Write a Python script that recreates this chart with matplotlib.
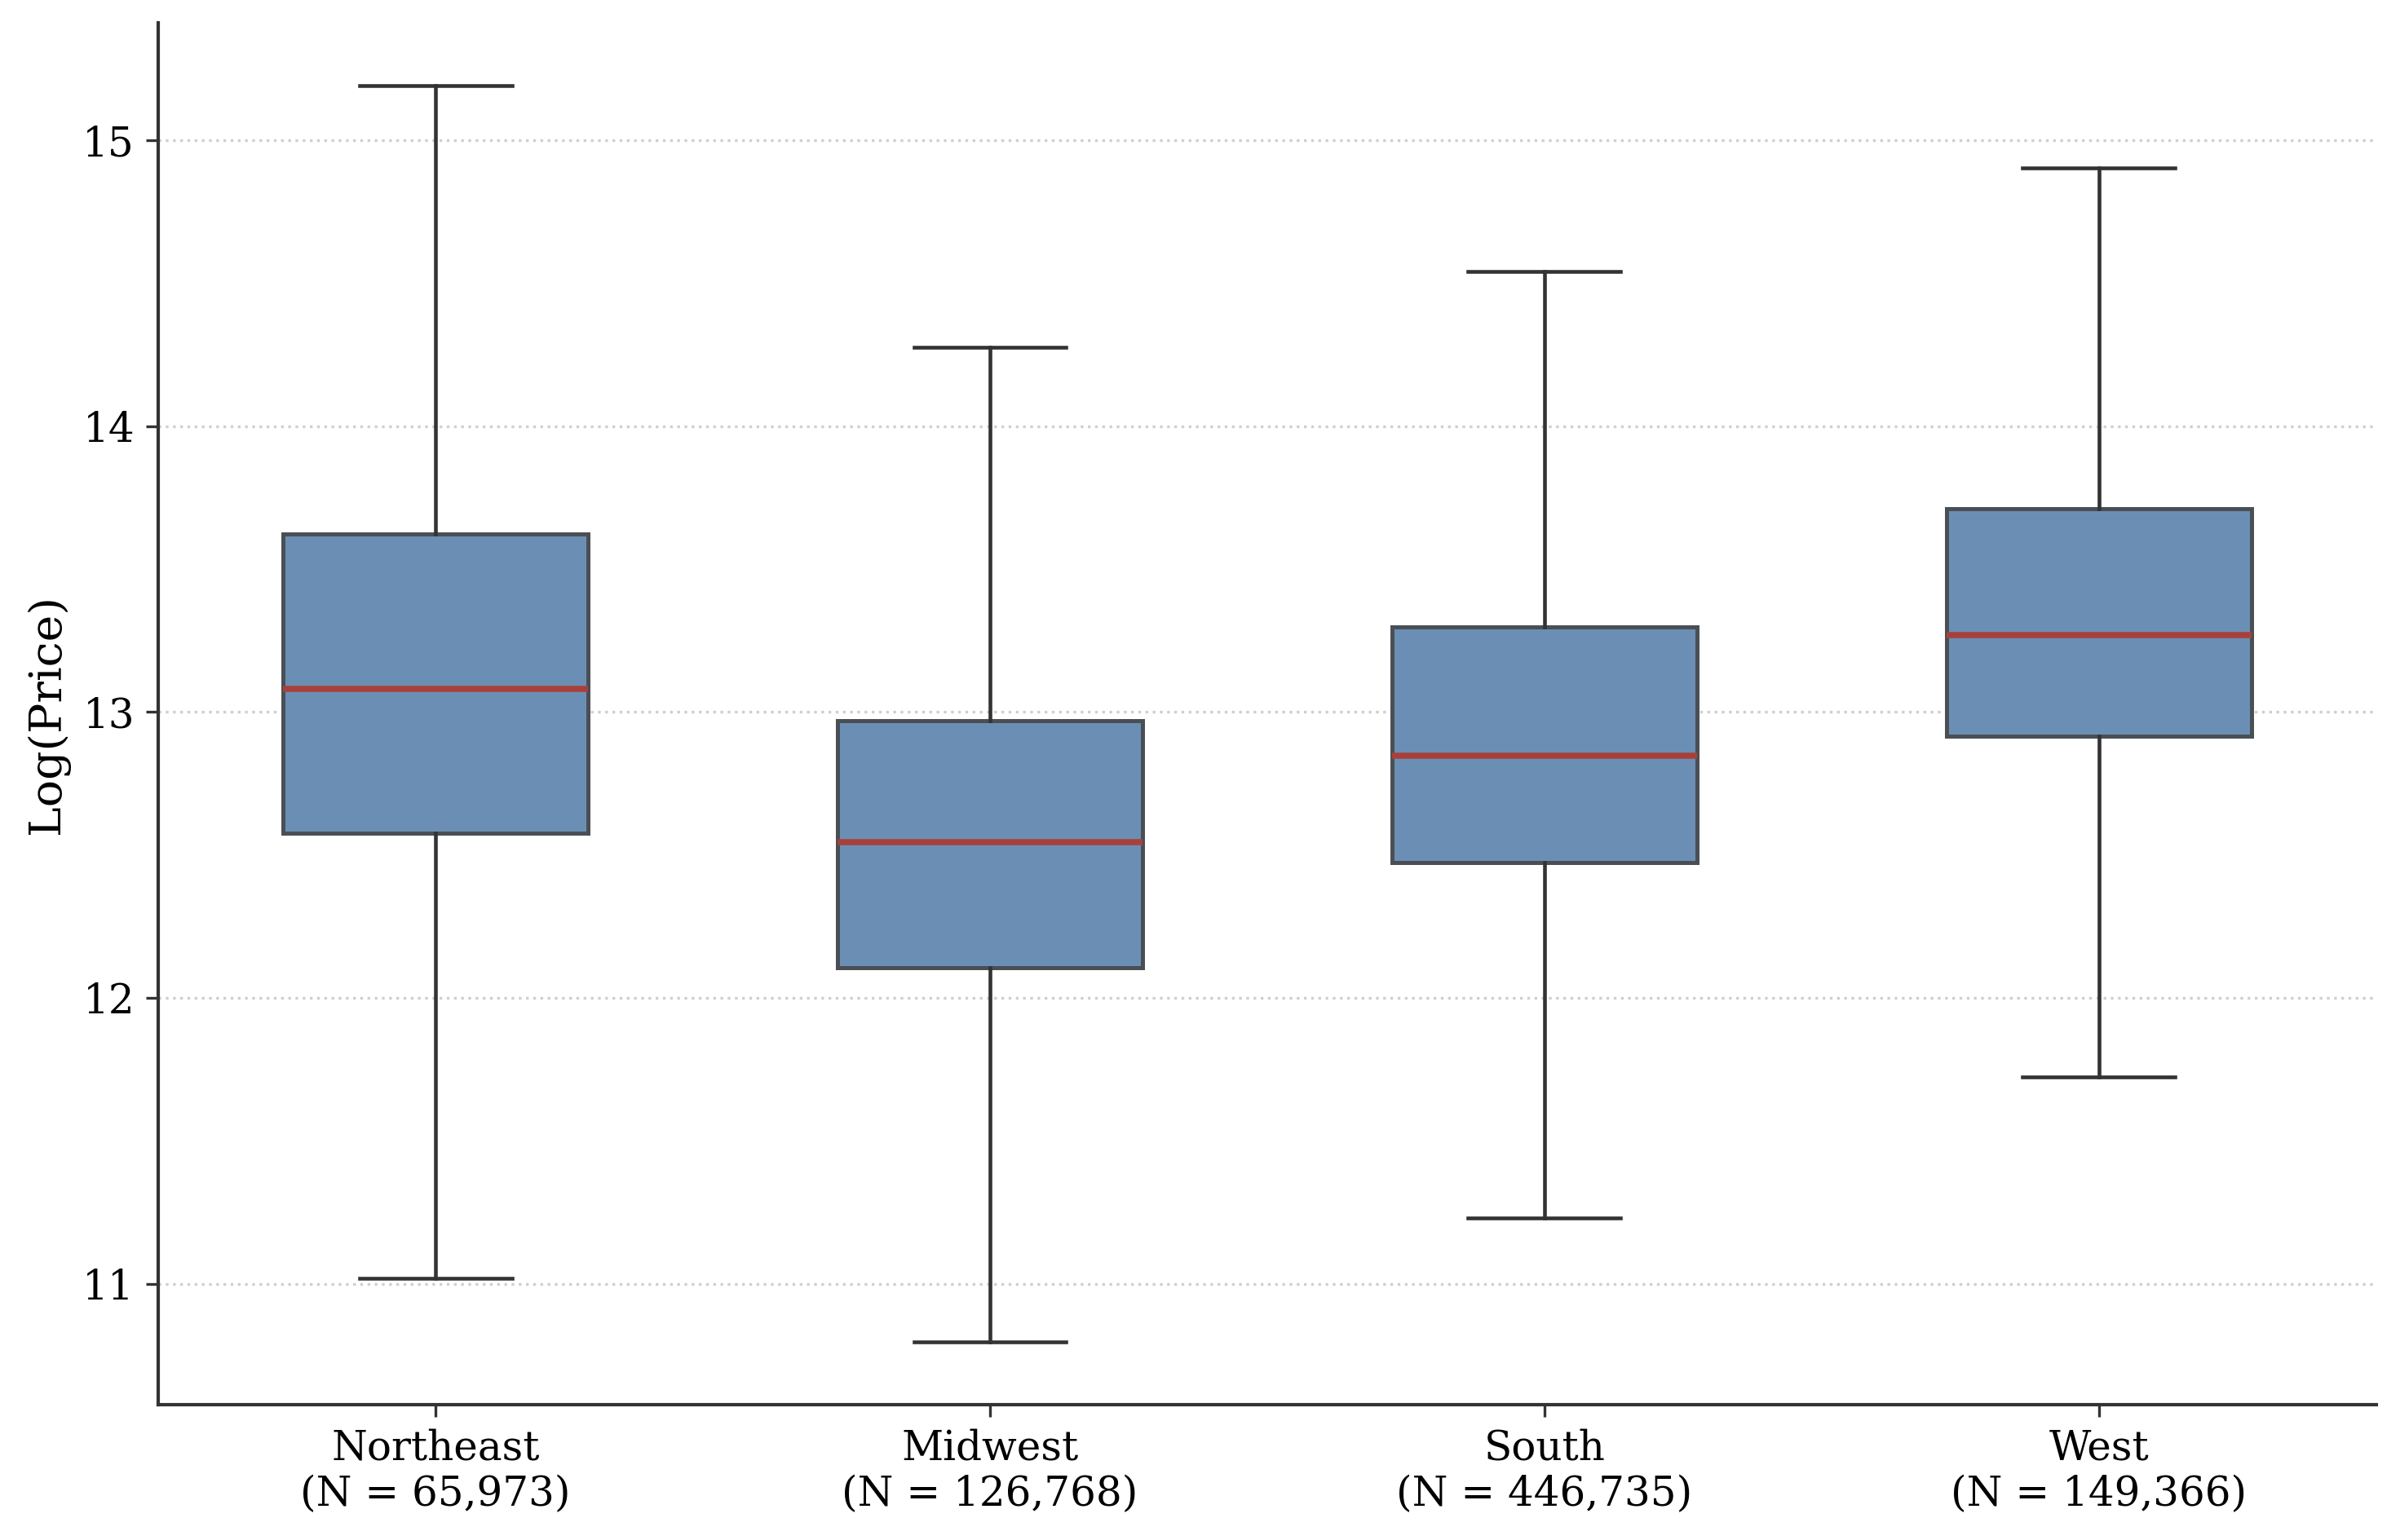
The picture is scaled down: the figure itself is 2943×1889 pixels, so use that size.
import matplotlib
matplotlib.use("Agg")
import matplotlib.pyplot as plt

# values
regions = ['Northeast', 'Midwest', 'South', 'West']
counts = [65973, 126768, 446735, 149366]
whislo = [11.02, 10.797, 11.23, 11.722]
q1 = [12.576, 12.105, 12.472, 12.915]
med = [13.08, 12.544, 12.848, 13.27]
q3 = [13.623, 12.968, 13.298, 13.71]
whishi = [15.19, 14.276, 14.541, 14.903]

plt.rcParams['font.family'] = 'DejaVu Serif'

stats = []
for i in range(len(regions)):
    stats.append({
        'label': f'{regions[i]}\n(N = {counts[i]:,})',
        'whislo': whislo[i], 'q1': q1[i], 'med': med[i],
        'q3': q3[i], 'whishi': whishi[i], 'fliers': [],
    })

fig, ax = plt.subplots(figsize=(2943 / 300, 1889 / 300), dpi=300)
fig.subplots_adjust(left=0.066, right=0.990, top=0.985, bottom=0.088)

ax.bxp(stats, widths=0.55, patch_artist=True, showfliers=False,
       boxprops=dict(facecolor='#6b8fb4', edgecolor='#4a4f55', linewidth=1.2),
       medianprops=dict(color='#a8403a', linewidth=1.8),
       whiskerprops=dict(color='#333333', linewidth=1.1),
       capprops=dict(color='#333333', linewidth=1.1))

ax.set_ylabel('Log(Price)', fontsize=13.3)
ax.tick_params(axis='both', labelsize=12, colors='#333333', labelcolor='black')
ax.yaxis.grid(True, linestyle=':', color='#cfcfcf', linewidth=0.8)
ax.set_axisbelow(True)

for side in ['top', 'right']:
    ax.spines[side].set_visible(False)
for side in ['left', 'bottom']:
    ax.spines[side].set_color('#333333')
    ax.spines[side].set_linewidth(1.0)

plt.savefig('out.png', dpi=300)
